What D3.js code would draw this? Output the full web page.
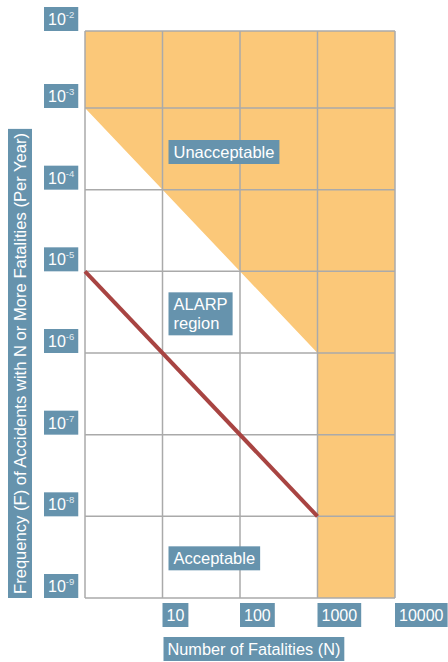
<!DOCTYPE html>
<html>
<head>
<meta charset="utf-8">
<script src="https://cdn.jsdelivr.net/npm/d3@7"></script>
<style>
  body { margin: 0; background: #fff; }
  svg text { font-family: "Liberation Sans", Arial, Helvetica, sans-serif; fill: #fff; }
</style>
</head>
<body>
<section></section>
<script>
// decade gridlines
const xGrid = [1, 10, 100, 1000, 10000];
const yGrid = [1e-2, 1e-3, 1e-4, 1e-5, 1e-6, 1e-7, 1e-8, 1e-9];
const xTickLabels = ['10', '100', '1000', '10000'];
const xTickValues = [10, 100, 1000, 10000];
const yTickExp = [-2, -3, -4, -5, -6, -7, -8, -9];

// unacceptable region outline (N, F)
const unaccN = [1, 10000, 10000, 1000, 1000, 1];
const unaccF = [1e-2, 1e-2, 1e-9, 1e-9, 1e-6, 1e-3];

// lower criterion line
const lineN = [1, 1000];
const lineF = [1e-5, 1e-8];

const regionNames = [['Unacceptable'], ['ALARP', 'region'], ['Acceptable']];
const regionF = [1e-3, 1e-5, 1e-8];

const blue = '#6693ad';
const orange = '#fbc879';
const red = '#a84442';
const grid = '#aaaaaa';

const svg = d3.select('section')
  .append('svg')
  .attr('width', 448)
  .attr('height', 662);

const xscale = d3.scaleLog().domain([1, 10000]).range([85, 395]);
const yscale = d3.scaleLog().domain([1e-9, 1e-3, 1e-2]).range([598, 108, 31]);

// orange zone
const unacc = unaccN.map((n, i) => [xscale(n), yscale(unaccF[i])]);
svg.append('path')
  .attr('d', d3.line()(unacc) + 'Z')
  .attr('fill', orange);

// grid
svg.selectAll('.vgrid')
  .data(xGrid)
  .enter()
  .append('line')
  .attr('class', 'vgrid')
  .attr('x1', d => xscale(d)).attr('x2', d => xscale(d))
  .attr('y1', yscale(1e-2)).attr('y2', yscale(1e-9))
  .attr('stroke', grid)
  .attr('stroke-width', 1.5);

svg.selectAll('.hgrid')
  .data(yGrid)
  .enter()
  .append('line')
  .attr('class', 'hgrid')
  .attr('x1', xscale(1)).attr('x2', xscale(10000))
  .attr('y1', d => yscale(d)).attr('y2', d => yscale(d))
  .attr('stroke', grid)
  .attr('stroke-width', 1.5);

// criterion line
svg.append('path')
  .attr('d', d3.line()(lineN.map((n, i) => [xscale(n), yscale(lineF[i])])))
  .attr('stroke', red)
  .attr('stroke-width', 4)
  .attr('fill', 'none');

// helper: blue box behind a text element
function boxed(g, pad) {
  const t = g.select('text');
  const b = t.node().getBBox();
  g.insert('rect', 'text')
    .attr('x', b.x - pad)
    .attr('y', +t.attr('data-top'))
    .attr('width', b.width + pad * 2)
    .attr('height', +t.attr('data-h'))
    .attr('fill', blue);
}

// y tick labels
yTickExp.forEach(e => {
  const yb = yscale(Math.pow(10, e));
  const g = svg.append('g');
  const t = g.append('text')
    .attr('x', 48)
    .attr('y', yb - 6)
    .attr('font-size', 16)
    .attr('data-top', yb - 24)
    .attr('data-h', 24);
  t.append('tspan').text('10');
  t.append('tspan').attr('font-size', 9.5).attr('dy', -7).style('fill', '#e4edf2').text('-' + Math.abs(e));
  boxed(g, 4);
});

// x tick labels
xTickValues.forEach((v, i) => {
  const g = svg.append('g');
  g.append('text')
    .attr('x', xscale(v) + 4)
    .attr('y', 621)
    .attr('font-size', 16)
    .attr('data-top', 603)
    .attr('data-h', 24)
    .text(xTickLabels[i]);
  boxed(g, 4);
});

// x title
const xt = svg.append('g');
xt.append('text')
  .attr('x', xscale(10) + 5)
  .attr('y', 655)
  .attr('font-size', 16.3)
  .attr('data-top', 637)
  .attr('data-h', 24)
  .text('Number of Fatalities (N)');
boxed(xt, 4);

// y title (rotated)
const yt = svg.append('g').attr('transform', 'translate(26, 594) rotate(-90)');
yt.append('text')
  .attr('x', 0)
  .attr('y', 0)
  .attr('font-size', 16.6)
  .attr('data-top', -18)
  .attr('data-h', 24)
  .text('Frequency (F) of Accidents with N or More Fatalities (Per Year)');
boxed(yt, 4);

// region labels
const regionOffset = [32, 21, 30];
regionNames.forEach((lines, i) => {
  const top = yscale(regionF[i]) + regionOffset[i];
  const g = svg.append('g');
  const t = g.append('text')
    .attr('x', xscale(10) + 11)
    .attr('y', top + 18)
    .attr('font-size', 16.5)
    .attr('data-top', top)
    .attr('data-h', 24 + (lines.length - 1) * 19);
  lines.forEach((s, j) => {
    t.append('tspan')
      .attr('x', xscale(10) + 11)
      .attr('dy', j === 0 ? 0 : 19)
      .text(s);
  });
  boxed(g, 5);
});
</script>
</body>
</html>
